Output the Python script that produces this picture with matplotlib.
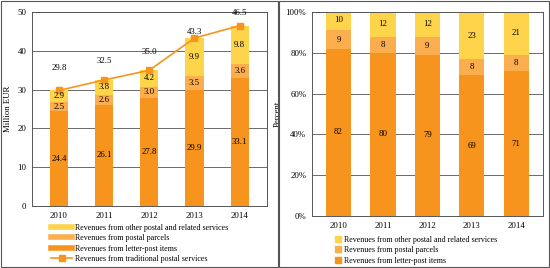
import matplotlib
matplotlib.use("Agg")
import matplotlib.pyplot as plt
import numpy as np
from matplotlib.lines import Line2D
from matplotlib.patches import Rectangle

plt.rcParams['font.family'] = ['Liberation Serif', 'DejaVu Serif']
plt.rcParams['font.size'] = 6.3

years = ['2010', '2011', '2012', '2013', '2014']
letter_post = [24.4, 26.1, 27.8, 29.9, 33.1]
parcels = [2.5, 2.6, 3.0, 3.5, 3.6]
other = [2.9, 3.8, 4.2, 9.9, 9.8]
traditional = [29.8, 32.5, 35.0, 43.3, 46.5]

pct_letter = [82, 80, 79, 69, 71]
pct_parcels = [9, 8, 9, 8, 8]
pct_other = [10, 12, 12, 23, 21]

# vertical offset of the total labels (layout only)
total_dy = [5.8, 4.9, 4.7, 1.6, 3.3]

c_letter = '#F7941D'
c_parcels = '#FBAE4E'
c_other = '#FDD44A'
c_line = '#F7941D'

lab_other = 'Revenues from other postal and related services'
lab_parcels = 'Revenues from postal parcels'
lab_letter = 'Revenues from letter-post items'
lab_trad = 'Revenues from traditional postal services'

fig = plt.figure(figsize=(5.5, 2.68), dpi=100)

# panel frames
for x0, w in [(0.002, 0.503), (0.508, 0.49)]:
    fig.patches.append(Rectangle((x0, 0.004), w, 0.992, transform=fig.transFigure,
                                 fill=False, edgecolor='#555555', lw=0.8))

x = np.arange(len(years))

# left chart
ax1 = fig.add_axes([0.058, 0.231, 0.427, 0.724])
b1 = np.array(letter_post)
b2 = b1 + np.array(parcels)
ax1.bar(x, letter_post, 0.4, color=c_letter, zorder=2)
ax1.bar(x, parcels, 0.4, bottom=b1, color=c_parcels, zorder=2)
ax1.bar(x, other, 0.4, bottom=b2, color=c_other, zorder=2)
ax1.plot(x, traditional, color=c_line, marker='s', markersize=5, lw=1.2, zorder=3)
for i in range(len(years)):
    ax1.text(x[i], letter_post[i] / 2, f'{letter_post[i]:.1f}', ha='center', va='center')
    ax1.text(x[i], b1[i] + parcels[i] / 2, f'{parcels[i]:.1f}', ha='center', va='center')
    ax1.text(x[i], b2[i] + other[i] / 2, f'{other[i]:.1f}', ha='center', va='center')
    ax1.text(x[i], traditional[i] + total_dy[i], f'{traditional[i]:.1f}', ha='center', va='center')
ax1.set_ylim(0, 50)
ax1.set_xlim(-0.6, 4.6)
ax1.set_yticks([0, 10, 20, 30, 40, 50])
ax1.set_xticks(x)
ax1.set_xticklabels(years)
ax1.set_ylabel('Million EUR', labelpad=4)
ax1.yaxis.grid(True, color='#6a6a6a', lw=0.7, zorder=0)
ax1.set_axisbelow(True)
ax1.tick_params(length=0, pad=4)
for s in ax1.spines.values():
    s.set_color('#555555')
    s.set_linewidth(0.7)

h1 = [Line2D([], [], color=c_other, lw=4),
      Line2D([], [], color=c_parcels, lw=4),
      Line2D([], [], color=c_letter, lw=4),
      Line2D([], [], color=c_line, lw=1.2, marker='s', markersize=4)]
fig.legend(h1, [lab_other, lab_parcels, lab_letter, lab_trad], loc='upper left',
           bbox_to_anchor=(0.093, 0.165), frameon=False, handlelength=2.6,
           handletextpad=0.35, labelspacing=0.3, borderpad=0, borderaxespad=0,
           fontsize=5.8)

# right chart
ax2 = fig.add_axes([0.567, 0.194, 0.42, 0.761])
p1 = np.array(pct_letter)
p2 = p1 + np.array(pct_parcels)
ax2.bar(x, pct_letter, 0.57, color=c_letter, zorder=2)
ax2.bar(x, pct_parcels, 0.57, bottom=p1, color=c_parcels, zorder=2)
ax2.bar(x, pct_other, 0.57, bottom=p2, color=c_other, zorder=2)
for i in range(len(years)):
    ax2.text(x[i], pct_letter[i] / 2, str(pct_letter[i]), ha='center', va='center')
    ax2.text(x[i], p1[i] + pct_parcels[i] / 2, str(pct_parcels[i]), ha='center', va='center')
    ax2.text(x[i], p2[i] + pct_other[i] / 2, str(pct_other[i]), ha='center', va='center')
ax2.set_ylim(0, 100)
ax2.set_xlim(-0.6, 4.6)
ax2.set_yticks([0, 20, 40, 60, 80, 100])
ax2.set_yticklabels([f'{v}%' for v in range(0, 101, 20)])
ax2.set_xticks(x)
ax2.set_xticklabels(years)
ax2.set_ylabel('Percent', labelpad=3)
ax2.yaxis.grid(True, color='#6a6a6a', lw=0.7, zorder=0)
ax2.set_axisbelow(True)
ax2.tick_params(length=0, pad=4)
for s in ax2.spines.values():
    s.set_color('#555555')
    s.set_linewidth(0.7)

h2 = [Line2D([], [], color=c_other, lw=0, marker='s', markersize=4),
      Line2D([], [], color=c_parcels, lw=0, marker='s', markersize=4),
      Line2D([], [], color=c_letter, lw=0, marker='s', markersize=4)]
fig.legend(h2, [lab_other, lab_parcels, lab_letter], loc='upper left',
           bbox_to_anchor=(0.608, 0.12), frameon=False, handlelength=1.0,
           handletextpad=0.2, labelspacing=0.3, borderpad=0, borderaxespad=0,
           fontsize=5.8)

fig.savefig('out.png', dpi=100)
